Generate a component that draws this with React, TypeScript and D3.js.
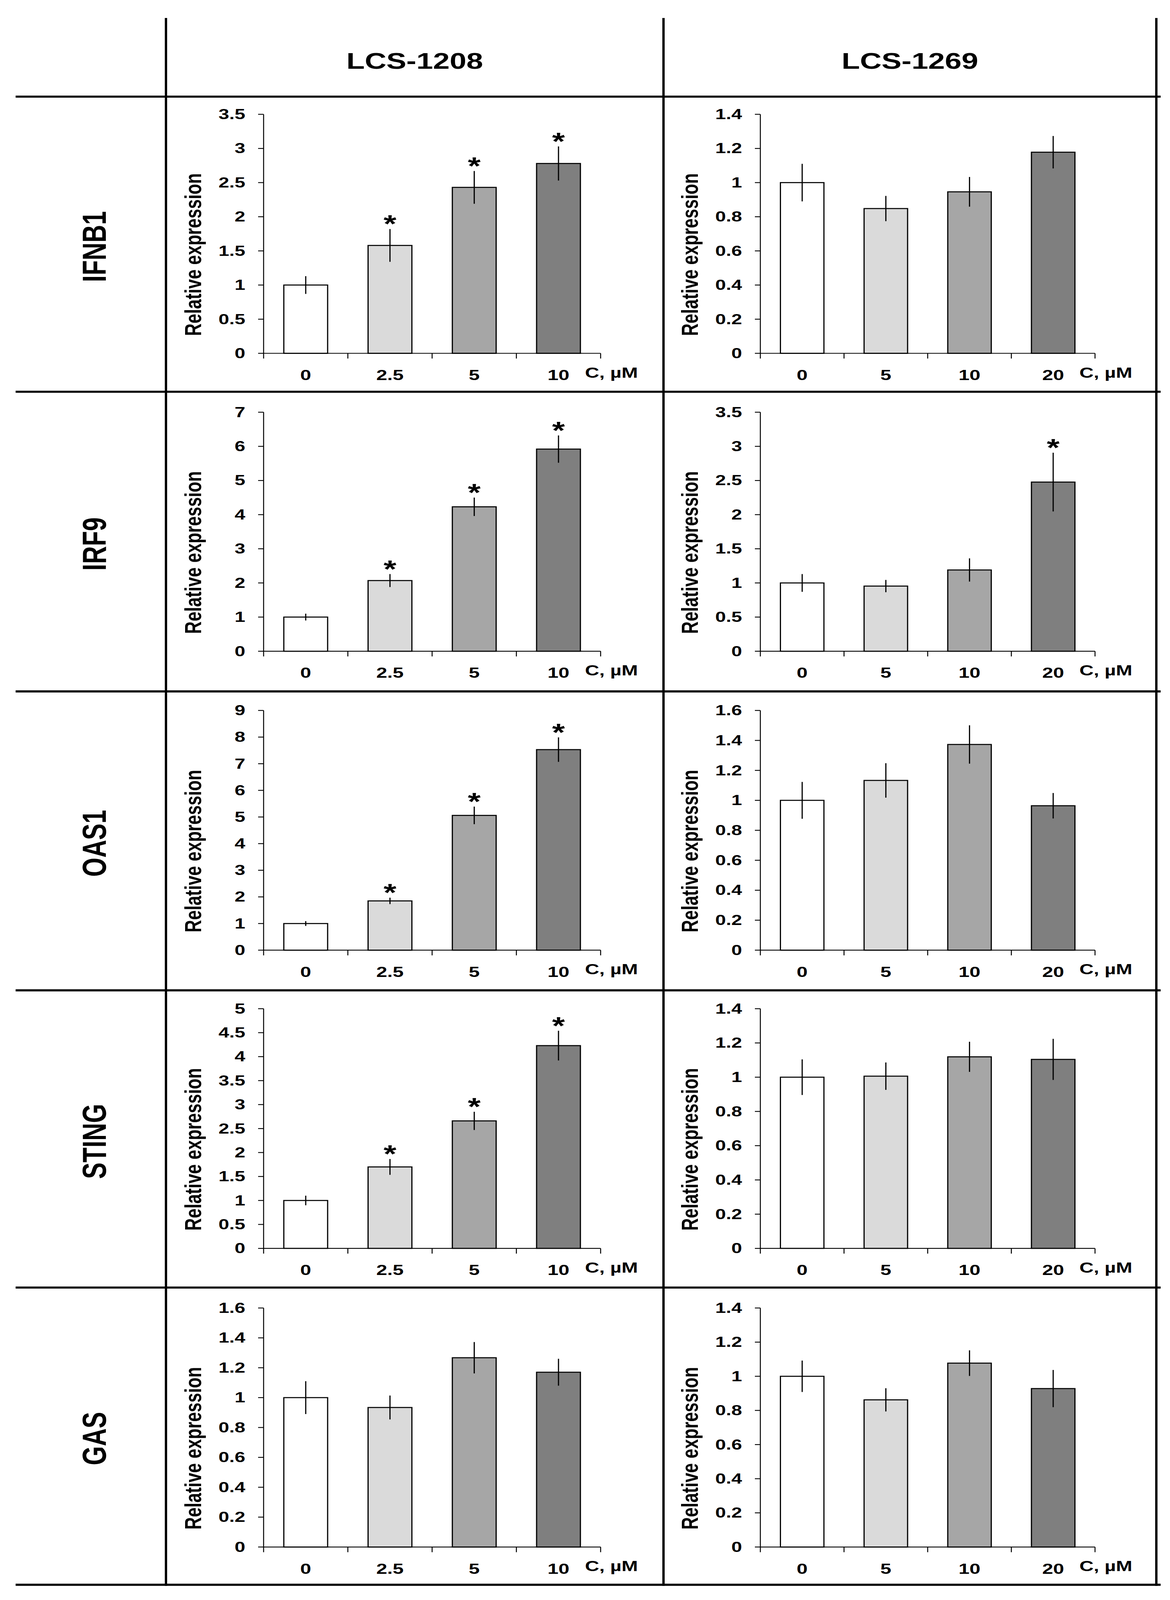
import * as d3 from "d3";

// rows = genes, columns = compounds
const genes = ["IFNB1", "IRF9", "OAS1", "STING", "GAS"];
const compounds = ["LCS-1208", "LCS-1269"];
const doses1208 = ["0", "2.5", "5", "10"];
const doses1269 = ["0", "5", "10", "20"];
const unitLabel = "C, µM";
const yTitle = "Relative expression";

// y axis extent and tick step for every panel
const yMax1208 = [3.5, 7, 9, 5, 1.6];
const yStep1208 = [0.5, 1, 1, 0.5, 0.2];
const yMax1269 = [1.4, 3.5, 1.6, 1.4, 1.4];
const yStep1269 = [0.2, 0.5, 0.2, 0.2, 0.2];

// mean relative expression
const mean1208 = [
  [1.0, 1.58, 2.43, 2.78],
  [1.0, 2.07, 4.23, 5.92],
  [1.0, 1.85, 5.06, 7.53],
  [1.0, 1.7, 2.66, 4.23],
  [1.0, 0.934, 1.267, 1.17],
];
const err1208 = [
  [0.13, 0.24, 0.24, 0.25],
  [0.1, 0.19, 0.27, 0.4],
  [0.09, 0.12, 0.33, 0.46],
  [0.1, 0.165, 0.19, 0.31],
  [0.11, 0.08, 0.105, 0.09],
];
const sig1208 = [
  [false, true, true, true],
  [false, true, true, true],
  [false, true, true, true],
  [false, true, true, true],
  [false, false, false, false],
];

const mean1269 = [
  [1.0, 0.848, 0.946, 1.178],
  [1.0, 0.954, 1.19, 2.477],
  [1.0, 1.133, 1.373, 0.964],
  [1.0, 1.006, 1.119, 1.104],
  [1.0, 0.862, 1.077, 0.928],
];
const err1269 = [
  [0.11, 0.074, 0.087, 0.095],
  [0.13, 0.09, 0.17, 0.43],
  [0.123, 0.115, 0.128, 0.085],
  [0.104, 0.08, 0.088, 0.12],
  [0.092, 0.068, 0.075, 0.109],
];
const sig1269 = [
  [false, false, false, false],
  [false, false, false, true],
  [false, false, false, false],
  [false, false, false, false],
  [false, false, false, false],
];

const barColors = ["#ffffff", "#dadada", "#a6a6a6", "#7f7f7f"];

// page layout (figure coordinates)
const W = 2996;
const H = 4619;
const FONT = "'Liberation Sans', Arial, Helvetica, sans-serif";
const SX = 1.2; // the figure is stretched horizontally
const hLines = [279, 1131, 1996, 2859, 3717, 4575];
const vLines = [425, 1699, 2961];
const plotTop = [330, 1190, 2051, 2912, 3776];
const plotBottom = [1020, 1880, 2743, 3604, 4466];
const colX0 = [675, 1947];
const colX1 = [1538, 2804];

type STextProps = {
  x: number;
  y: number;
  size: number;
  anchor?: "start" | "middle" | "end";
  rot?: boolean;
  children: React.ReactNode;
};

const SText = ({ x, y, size, anchor = "middle", rot = false, children }: STextProps) => (
  <g transform={`translate(${x},${y}) scale(${SX},1)${rot ? " rotate(-90)" : ""}`}>
    <text x={0} y={0} fontSize={size} fontWeight="bold" fontFamily={FONT} textAnchor={anchor} fill="#000">
      {children}
    </text>
  </g>
);

interface PanelProps {
  doses: string[];
  means: number[];
  errs: number[];
  sigs: boolean[];
  yMax: number;
  yStep: number;
  x0: number;
  x1: number;
  top: number;
  bottom: number;
}

const Panel = ({ doses, means, errs, sigs, yMax, yStep, x0, x1, top, bottom }: PanelProps) => {
  const x = d3.scaleBand<string>().domain(doses).range([x0, x1]).paddingInner(0.48).paddingOuter(0.24);
  const y = d3.scaleLinear().domain([0, yMax]).range([bottom, top]);
  const ticks = d3.range(0, yMax + yStep / 2, yStep);
  const fmt = d3.format("~g");
  const bw = x.bandwidth();
  const step = x.step();
  const bounds = doses.map((d) => (x(d) as number) + bw / 2 - step / 2).concat([x1]);

  return (
    <g>
      {/* bars */}
      {doses.map((d, i) => (
        <rect
          key={d}
          x={x(d)}
          y={y(means[i])}
          width={bw}
          height={y(0) - y(means[i])}
          fill={barColors[i]}
          stroke="#000"
          strokeWidth={3}
        />
      ))}
      {/* error bars */}
      {doses.map((d, i) => (
        <line
          key={d}
          x1={(x(d) as number) + bw / 2}
          x2={(x(d) as number) + bw / 2}
          y1={y(means[i] - errs[i])}
          y2={y(means[i] + errs[i])}
          stroke="#000"
          strokeWidth={3}
        />
      ))}
      {/* significance marks */}
      {doses.map((d, i) =>
        sigs[i] ? (
          <SText key={d} x={(x(d) as number) + bw / 2} y={y(means[i] + errs[i]) + 9} size={70}>
            *
          </SText>
        ) : null
      )}
      {/* y axis */}
      <line x1={x0} x2={x0} y1={top} y2={bottom} stroke="#000" strokeWidth={2.5} />
      {ticks.map((t) => (
        <g key={t}>
          <line x1={x0 - 14} x2={x0} y1={y(t)} y2={y(t)} stroke="#000" strokeWidth={2.5} />
          <SText x={x0 - 47} y={y(t) + 14} size={41} anchor="end">
            {fmt(t)}
          </SText>
        </g>
      ))}
      <SText x={x0 - 160} y={(top + bottom) / 2 + 60} size={50} rot>
        {yTitle}
      </SText>
      {/* x axis */}
      <line x1={x0} x2={x1} y1={bottom} y2={bottom} stroke="#000" strokeWidth={2.5} />
      {bounds.map((b, i) => (
        <line key={i} x1={b} x2={b} y1={bottom} y2={bottom + 15} stroke="#000" strokeWidth={2.5} />
      ))}
      {doses.map((d) => (
        <SText key={d} x={(x(d) as number) + bw / 2} y={bottom + 77} size={42}>
          {d}
        </SText>
      ))}
      <SText x={x1 - 40} y={bottom + 70} size={42} anchor="start">
        {unitLabel}
      </SText>
    </g>
  );
};

const App = () => {
  // the browser viewport may be shorter than the figure: fit the whole figure into it
  const vh = typeof window !== "undefined" && window.innerHeight > 0 ? Math.min(window.innerHeight, H) : H;
  return (
    <svg
      width={W}
      height={vh}
      viewBox={`0 0 ${W} ${H}`}
      preserveAspectRatio="none"
      style={{ position: "absolute", left: 0, top: 0, background: "#fff" }}
    >
      <rect x={0} y={0} width={W} height={H} fill="#fff" />

      {/* table grid */}
      {hLines.map((yy) => (
        <line key={yy} x1={40} x2={2972} y1={yy} y2={yy} stroke="#000" strokeWidth={6} />
      ))}
      {vLines.map((xx) => (
        <line key={xx} x1={xx} x2={xx} y1={52} y2={4578} stroke="#000" strokeWidth={6} />
      ))}

      {/* column headers */}
      {compounds.map((c, i) => (
        <SText key={c} x={(vLines[i] + vLines[i + 1]) / 2} y={198} size={64}>
          {c}
        </SText>
      ))}

      {/* row labels */}
      {genes.map((g, r) => (
        <SText key={g} x={271} y={(hLines[r] + hLines[r + 1]) / 2 + 7} size={71} rot>
          {g}
        </SText>
      ))}

      {genes.map((g, r) => (
        <g key={g}>
          <Panel
            doses={doses1208}
            means={mean1208[r]}
            errs={err1208[r]}
            sigs={sig1208[r]}
            yMax={yMax1208[r]}
            yStep={yStep1208[r]}
            x0={colX0[0]}
            x1={colX1[0]}
            top={plotTop[r]}
            bottom={plotBottom[r]}
          />
          <Panel
            doses={doses1269}
            means={mean1269[r]}
            errs={err1269[r]}
            sigs={sig1269[r]}
            yMax={yMax1269[r]}
            yStep={yStep1269[r]}
            x0={colX0[1]}
            x1={colX1[1]}
            top={plotTop[r]}
            bottom={plotBottom[r]}
          />
        </g>
      ))}
    </svg>
  );
};

export default App;
